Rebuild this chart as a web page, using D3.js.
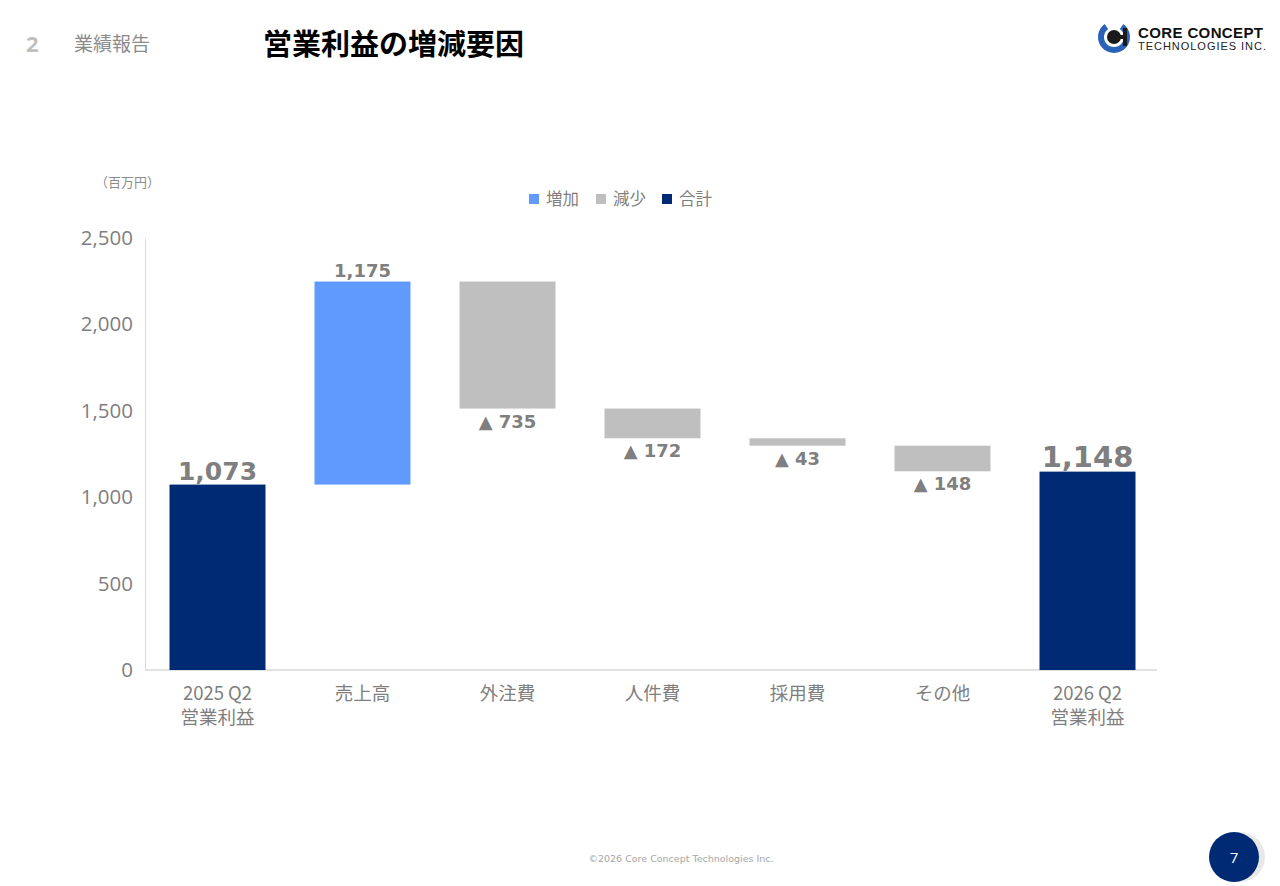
<!DOCTYPE html>
<html><head><meta charset="utf-8">
<script src="https://cdn.jsdelivr.net/npm/d3@7/dist/d3.min.js"></script>
<style>
body{margin:0;background:#fff;}
svg{display:block;}
</style></head>
<body>
<svg id="c" width="1280" height="886"></svg>
<script>
const categories = [["2025 Q2","営業利益"],["売上高"],["外注費"],["人件費"],["採用費"],["その他"],["2026 Q2","営業利益"]];
const kinds = ["total","up","down","down","down","down","total"];
const values = [1073, 1175, -735, -172, -43, -148, 1148];
const yTicks = [0, 500, 1000, 1500, 2000, 2500];
const legendItems = [["増加","#619AFF"],["減少","#BFBFBF"],["合計","#002A73"]];
const colors = {up:"#619AFF", down:"#BFBFBF", total:"#002A73"};

const svg = d3.select("#c");
const JP = "'Noto Sans CJK JP','Noto Sans',sans-serif";
const gray = "#7F7F7F";

// header
svg.append("text").attr("x",26).attr("y",52).attr("font-family","'Open Sans',sans-serif").attr("font-weight",700).attr("font-size",22).attr("fill","#BFBFBF").text("2");
svg.append("text").attr("x",74).attr("y",51).attr("font-family",JP).attr("font-size",19).attr("fill","#8C8C8C").text("業績報告");
svg.append("text").attr("x",263).attr("y",55).attr("font-family",JP).attr("font-weight",700).attr("font-size",29).attr("fill","#000").text("営業利益の増減要因");

// logo
const lg = svg.append("g").attr("transform","translate(1114,37)");
lg.append("path").attr("d", d3.arc()({innerRadius:10,outerRadius:16,startAngle:Math.PI*0.2,endAngle:Math.PI*1.8})).attr("fill","#2A62B8");
lg.append("circle").attr("r",7).attr("fill","#1a1a1a");
lg.append("rect").attr("x",-1).attr("y",-2).attr("width",12).attr("height",4).attr("fill","#1a1a1a");
lg.append("rect").attr("x",9).attr("y",-9).attr("width",4).attr("height",18).attr("fill","#1a1a1a");
svg.append("text").attr("x",1138).attr("y",38).attr("font-family","'Liberation Sans',sans-serif").attr("font-weight",700).attr("font-size",15).attr("fill","#111").attr("textLength",125).text("CORE CONCEPT");
svg.append("text").attr("x",1138).attr("y",50).attr("font-family","'Liberation Sans',sans-serif").attr("font-size",11).attr("fill","#222").attr("textLength",128).text("TECHNOLOGIES INC.");

// units
svg.append("text").attr("x",95).attr("y",187).attr("font-family",JP).attr("font-size",13).attr("fill","#8C8C8C").text("（百万円）");

// scales
const x = d3.scaleBand().domain(d3.range(categories.length)).range([145,1160]).paddingInner(0.338).paddingOuter(0.169);
const y = d3.scaleLinear().domain([0,2500]).range([670,238]);

// compute waterfall
let run = 0;
const bars = values.map((v,i)=>{
  const k = kinds[i];
  let y0,y1;
  if(k==="total"){ y0=0; y1=v; run=v; }
  else { y0=run; y1=run+v; run=y1; }
  return {i,k,v,lo:Math.min(y0,y1),hi:Math.max(y0,y1)};
});

// axes
const yAxis = d3.axisLeft(y).tickValues(yTicks).tickSize(0).tickPadding(10).tickFormat(d3.format(","));
const ga = svg.append("g").attr("transform","translate(145,0)").call(yAxis);
ga.select(".domain").attr("stroke","#D9D9D9");
ga.selectAll("text").attr("font-family","'Open Sans','Noto Sans',sans-serif").attr("font-size",20.5).attr("fill",gray).attr("dx",-2);
svg.append("line").attr("x1",145).attr("x2",1157).attr("y1",y(0)).attr("y2",y(0)).attr("stroke","#D9D9D9").attr("stroke-width",1.5);

// bars
svg.selectAll("rect.bar").data(bars).join("rect").attr("class","bar")
  .attr("x",d=>x(d.i)).attr("width",x.bandwidth())
  .attr("y",d=>y(d.hi)).attr("height",d=>y(d.lo)-y(d.hi))
  .attr("fill",d=>colors[d.k]);

// labels
const LF = "'DejaVu Sans',Verdana,sans-serif";
bars.forEach(d=>{
  const cx = x(d.i)+x.bandwidth()/2;
  const t = svg.append("text").attr("x",cx).attr("text-anchor","middle").attr("font-family",LF).attr("font-weight",700).attr("fill",gray);
  if(d.k==="total"){
    const fs = d.i===0?25:29;
    t.attr("y",y(d.hi)-5).attr("font-size",fs).text(d3.format(",")(d.v));
  } else if(d.k==="up"){
    t.attr("y",y(d.hi)-5).attr("font-size",18).text(d3.format(",")(d.v));
  } else {
    t.attr("y",y(d.lo)+19).attr("font-size",18).text("▲ "+d3.format(",")(-d.v));
  }
});

// category labels
categories.forEach((lines,i)=>{
  const cx = x(i)+x.bandwidth()/2;
  lines.forEach((s,j)=>{
    svg.append("text").attr("x",cx).attr("y",700+j*24).attr("text-anchor","middle")
      .attr("font-family",JP).attr("font-size",18.5).attr("fill",gray).text(s);
  });
});

// legend
const legX = [529, 596, 662];
legendItems.forEach((d,i)=>{
  svg.append("rect").attr("x",legX[i]).attr("y",194).attr("width",10).attr("height",10).attr("fill",d[1]);
  svg.append("text").attr("x",legX[i]+17).attr("y",205).attr("font-family",JP).attr("font-size",16.5).attr("fill",gray).text(d[0]);
});

// footer
svg.append("text").attr("x",681).attr("y",862).attr("text-anchor","middle").attr("font-family","'DejaVu Sans',sans-serif").attr("font-size",9.5).attr("fill","#A6A6A6").text("©2026 Core Concept Technologies Inc.");
svg.append("circle").attr("cx",1240).attr("cy",857).attr("r",25).attr("fill","#E8E8E8");
svg.append("circle").attr("cx",1234).attr("cy",857).attr("r",25).attr("fill","#002A73");
svg.append("text").attr("x",1234).attr("y",863).attr("text-anchor","middle").attr("font-family","'Open Sans',sans-serif").attr("font-size",15).attr("fill","#fff").text("7");
</script>
</body></html>
